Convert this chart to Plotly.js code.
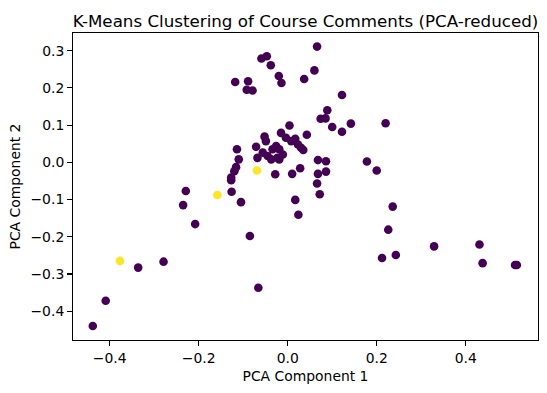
<!DOCTYPE html>
<html>
<head>
<meta charset="utf-8">
<script src="https://cdn.plot.ly/plotly-3.0.1.min.js"></script>
<style>html,body{margin:0;padding:0;background:#fff;}#chart{width:547px;height:393px;}</style>
</head>
<body>
<div id="chart"></div>
<script>
// Cluster 0 (purple)
const cluster0X = [-0.118,-0.089,-0.092,-0.079,-0.059,-0.047,-0.038,-0.020,-0.014,0.066,0.060,0.037,0.122,0.089,0.074,0.085,0.100,0.142,0.122,0.220,0.004,0.043,
  -0.015,-0.004,0.008,0.017,0.023,0.030,0.035,-0.052,-0.049,-0.071,-0.114,-0.110,-0.116,-0.120,-0.127,-0.127,-0.068,-0.056,-0.045,-0.034,-0.026,-0.019,-0.011,-0.023,-0.037,-0.019,
  -0.028,0.010,0.028,0.068,0.086,0.068,0.086,0.066,0.072,0.178,0.200,0.017,0.024,0.236,0.226,0.212,0.243,0.329,0.431,0.438,0.511,0.515,
  -0.229,-0.126,-0.105,-0.235,-0.208,-0.085,-0.336,-0.279,-0.066,-0.409,-0.438];
const cluster0Y = [0.216,0.218,0.195,0.193,0.279,0.285,0.261,0.232,0.213,0.311,0.247,0.224,0.181,0.140,0.117,0.118,0.095,0.104,0.082,0.105,0.099,0.074,
  0.079,0.066,0.057,0.063,0.048,0.039,0.033,0.069,0.057,0.042,0.035,0.008,-0.013,-0.024,-0.041,-0.048,0.012,0.026,0.017,0.035,0.044,0.035,0.021,0.012,0.008,0.008,
  -0.032,-0.031,-0.016,0.006,0.003,-0.031,-0.025,-0.057,-0.086,0.002,-0.022,-0.101,-0.141,-0.119,-0.181,-0.257,-0.249,-0.226,-0.221,-0.271,-0.276,-0.276,
  -0.077,-0.079,-0.107,-0.115,-0.166,-0.198,-0.283,-0.267,-0.337,-0.372,-0.440];
// Cluster 1 (yellow)
const cluster1X = [-0.069,-0.158,-0.377];
const cluster1Y = [-0.022,-0.088,-0.265];

const xTicks = [-0.4,-0.2,0.0,0.2,0.4];
const yTicks = [-0.4,-0.3,-0.2,-0.1,0.0,0.1,0.2,0.3];

const FONT = 'DejaVu Sans, sans-serif';
const markerSize = 8.6;

const traces = [
  {x: cluster0X, y: cluster0Y, mode: 'markers', type: 'scatter',
   marker: {color: '#440154', size: markerSize, line: {width: 0}}, hoverinfo: 'x+y'},
  {x: cluster1X, y: cluster1Y, mode: 'markers', type: 'scatter',
   marker: {color: '#fde725', size: markerSize, line: {width: 0}}, hoverinfo: 'x+y'}
];

const axisCommon = {
  showgrid: false, zeroline: false, showline: true, mirror: true,
  linecolor: '#000', linewidth: 1.1,
  ticks: 'outside', ticklen: 4.9, tickwidth: 1.1, tickcolor: '#000',
  tickfont: {family: FONT, size: 13.9, color: '#000'},
  tickformat: '.1f', tickmode: 'array'
};

const layout = {
  width: 547, height: 393,
  margin: {l: 73, r: 9, t: 33, b: 53, pad: 0},
  paper_bgcolor: '#fff', plot_bgcolor: '#fff',
  showlegend: false,
  title: {text: 'K-Means Clustering of Course Comments (PCA-reduced)',
          font: {family: FONT, size: 16.7, color: '#000'},
          x: 0.5, xref: 'paper', xanchor: 'center',
          y: 1, yref: 'paper', yanchor: 'bottom', pad: {b: 6}},
  xaxis: Object.assign({}, axisCommon, {
    range: [-0.4825, 0.5625], tickvals: xTicks,
    title: {text: 'PCA Component 1', font: {family: FONT, size: 13.9, color: '#000'}, standoff: 6}
  }),
  yaxis: Object.assign({}, axisCommon, {
    range: [-0.4775, 0.3475], tickvals: yTicks,
    title: {text: 'PCA Component 2', font: {family: FONT, size: 13.9, color: '#000'}, standoff: 6}
  })
};

Plotly.newPlot('chart', traces, layout, {displayModeBar: false, staticPlot: true});
</script>
</body>
</html>
